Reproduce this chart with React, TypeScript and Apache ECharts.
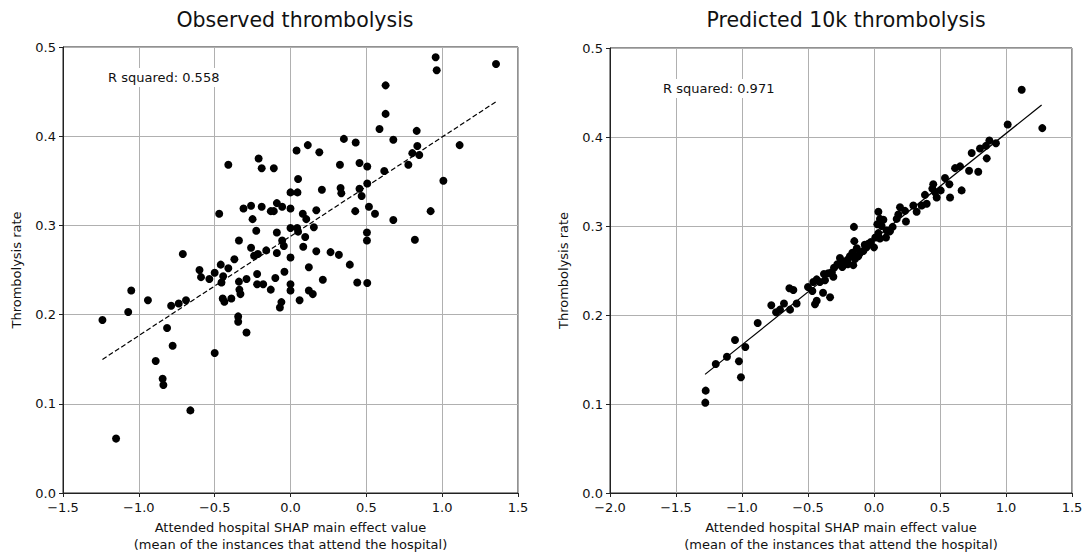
import React, { useEffect, useRef } from "react";
import * as echarts from "echarts";

const observedTitle = "Observed thrombolysis";
const predictedTitle = "Predicted 10k thrombolysis";
const xAxisName = "Attended hospital SHAP main effect value\n(mean of the instances that attend the hospital)";
const yAxisName = "Thrombolysis rate";
const observedR2 = "R squared: 0.558";
const predictedR2 = "R squared: 0.971";

const observedPoints: [number, number][] = [
  [0.04, 0.384], [-0.21, 0.375], [-0.41, 0.368], [-0.19, 0.364], [-0.11, 0.364], [0.05, 0.352],
  [0.0, 0.337], [0.046, 0.337], [-0.47, 0.313], [-0.31, 0.319], [-0.26, 0.322], [-0.19, 0.321],
  [-0.09, 0.325], [-0.055, 0.321], [-0.13, 0.316], [-0.11, 0.316], [0.0, 0.319], [-0.25, 0.307],
  [-0.226, 0.294], [-0.09, 0.292], [0.0, 0.297], [0.05, 0.293], [0.044, 0.297], [-0.34, 0.283],
  [-0.055, 0.283], [-0.044, 0.277], [-0.26, 0.275], [-0.16, 0.272], [-0.215, 0.268], [-0.24, 0.266],
  [-0.09, 0.269], [0.0, 0.264], [-0.37, 0.262], [-0.71, 0.268], [-0.46, 0.256], [-0.41, 0.252],
  [0.957, 0.4885], [0.964, 0.474], [1.355, 0.481], [0.627, 0.457], [0.627, 0.425], [0.587, 0.408],
  [0.832, 0.406], [0.352, 0.397], [0.43, 0.393], [0.678, 0.396], [1.115, 0.39], [0.114, 0.39],
  [0.19, 0.382], [0.836, 0.389], [0.803, 0.381], [0.849, 0.379], [0.777, 0.368], [0.326, 0.368],
  [0.455, 0.37], [0.506, 0.366], [0.618, 0.361], [1.008, 0.35], [0.506, 0.347], [0.33, 0.342],
  [0.335, 0.336], [0.455, 0.341], [0.469, 0.333], [0.207, 0.34], [0.924, 0.316], [0.517, 0.321],
  [0.557, 0.313], [0.427, 0.316], [0.17, 0.317], [0.081, 0.313], [0.104, 0.307], [0.678, 0.306],
  [0.154, 0.298], [0.097, 0.287], [0.504, 0.292], [0.504, 0.283], [0.82, 0.284], [0.084, 0.276],
  [0.17, 0.271], [0.264, 0.27], [0.319, 0.267], [0.121, 0.253], [0.391, 0.256], [-0.6, 0.25],
  [-0.59, 0.242], [-0.535, 0.24], [-0.5, 0.247], [-0.444, 0.243], [-0.455, 0.236], [-0.34, 0.237],
  [-0.29, 0.24], [-0.22, 0.2455], [-0.22, 0.234], [-0.18, 0.234], [-0.1, 0.241], [-0.04, 0.248],
  [-0.13, 0.228], [0.0, 0.234], [0.0, 0.227], [-0.06, 0.214], [-0.07, 0.208], [0.06, 0.216],
  [-0.337, 0.228], [-0.33, 0.223], [-0.447, 0.218], [-0.436, 0.2145], [-0.39, 0.218], [-1.05, 0.227],
  [-0.94, 0.216], [-1.07, 0.203], [-0.787, 0.21], [-0.737, 0.2125], [-0.689, 0.216], [-1.24, 0.194],
  [-0.814, 0.185], [-0.345, 0.198], [-0.345, 0.192], [-0.29, 0.18], [-0.777, 0.165], [-0.5, 0.157],
  [-0.889, 0.148], [-0.843, 0.128], [-0.838, 0.121], [-0.66, 0.0926], [-1.15, 0.061], [0.213, 0.239],
  [0.121, 0.227], [0.147, 0.223], [0.44, 0.236], [0.506, 0.2355],
];

const observedFit: [number, number][] = [[-1.24, 0.1497], [1.355, 0.4386]];

const predictedPoints: [number, number][] = [
  [-1.275, 0.115], [-1.278, 0.1015], [-1.199, 0.145], [-1.114, 0.153], [-1.053, 0.172], [-1.023, 0.148],
  [-1.008, 0.13], [-0.975, 0.164], [-0.881, 0.191], [-0.778, 0.211], [-0.742, 0.203], [-0.712, 0.206],
  [-0.682, 0.213], [-0.636, 0.206], [-0.641, 0.23], [-0.611, 0.228], [-0.586, 0.213], [-0.5, 0.2315],
  [-0.467, 0.227], [-0.447, 0.212], [-0.434, 0.216], [-0.386, 0.225], [-0.333, 0.22], [-0.46, 0.237],
  [-0.434, 0.24], [-0.41, 0.237], [-0.371, 0.239], [-0.379, 0.246], [-0.346, 0.247], [-0.308, 0.243],
  [-0.303, 0.253], [-0.278, 0.257], [-0.258, 0.264], [-0.232, 0.26], [-0.199, 0.257], [-0.182, 0.266],
  [-0.164, 0.27], [-0.144, 0.263], [-0.157, 0.256], [-0.119, 0.266], [-0.106, 0.27], [-0.149, 0.283],
  [-0.152, 0.299], [-0.081, 0.272], [-0.056, 0.276], [-0.043, 0.28], [-0.023, 0.282], [0.0, 0.276],
  [0.033, 0.316], [0.045, 0.308], [0.071, 0.307], [0.025, 0.302], [0.058, 0.3], [0.033, 0.292],
  [0.045, 0.286], [0.091, 0.287], [0.096, 0.295], [0.121, 0.294], [0.141, 0.299], [0.172, 0.308],
  [0.197, 0.321], [0.242, 0.305], [0.184, 0.313], [0.235, 0.317], [0.298, 0.323], [0.323, 0.316],
  [0.361, 0.323], [0.386, 0.335], [0.399, 0.325], [0.449, 0.347], [0.442, 0.342], [0.462, 0.338],
  [0.475, 0.332], [0.505, 0.34], [0.538, 0.354], [0.571, 0.347], [0.664, 0.34], [0.576, 0.332],
  [0.614, 0.365], [0.652, 0.367], [0.72, 0.362], [0.79, 0.361], [0.74, 0.382], [0.854, 0.376],
  [0.803, 0.387], [0.848, 0.39], [0.874, 0.396], [0.924, 0.393], [1.013, 0.414], [1.119, 0.453],
  [1.275, 0.41], [-0.24, 0.254], [-0.13, 0.275], [-0.07, 0.279], [-0.2, 0.262], [-0.32, 0.248],
  [0.01, 0.287],
];

const predictedFit: [number, number][] = [[-1.28, 0.1333], [1.27, 0.436]];

const FONT = "DejaVu Sans";
const fmt = (v: number) => (v < 0 ? "\u2212" : "") + Math.abs(v).toFixed(1);

export default function App() {
  const ref = useRef<HTMLDivElement>(null);
  useEffect(() => {
    if (!ref.current) return;
    const chart = echarts.init(ref.current, undefined, { renderer: "svg" });
    const xAxisBase = {
      type: "value" as const,
      interval: 0.5,
      name: xAxisName,
      nameLocation: "middle" as const,
      nameGap: 26,
      nameTextStyle: { fontFamily: FONT, fontSize: 13, color: "#111", lineHeight: 17 },
      axisLine: { show: true, onZero: false, lineStyle: { color: "#222", width: 1 } },
      axisTick: { show: true, length: 4, lineStyle: { color: "#222" } },
      axisLabel: { fontFamily: FONT, fontSize: 13, color: "#111", margin: 8, formatter: fmt },
      splitLine: { show: true, lineStyle: { color: "#b0b0b0", width: 1 } },
    };
    const yAxisBase = {
      type: "value" as const,
      min: 0,
      max: 0.5,
      interval: 0.1,
      name: yAxisName,
      nameLocation: "middle" as const,
      nameGap: 40,
      nameTextStyle: { fontFamily: FONT, fontSize: 13, color: "#111" },
      axisLine: { show: true, onZero: false, lineStyle: { color: "#222", width: 1 } },
      axisTick: { show: true, length: 4, lineStyle: { color: "#222" } },
      axisLabel: { fontFamily: FONT, fontSize: 13, color: "#111", margin: 7, formatter: fmt },
      splitLine: { show: true, lineStyle: { color: "#b0b0b0", width: 1 } },
    };
    chart.setOption({
      animation: false,
      backgroundColor: "#fff",
      title: [
        { text: observedTitle, left: 290, top: 4, textAlign: "center", textStyle: { fontFamily: FONT, fontSize: 20.5, fontWeight: "normal", color: "#111" } },
        { text: predictedTitle, left: 841, top: 4, textAlign: "center", textStyle: { fontFamily: FONT, fontSize: 20.5, fontWeight: "normal", color: "#111" } },
      ],
      grid: [
        { left: 63, top: 47, width: 455, height: 450, show: true, borderColor: "#222", borderWidth: 1, backgroundColor: "transparent" },
        { left: 610, top: 48, width: 462, height: 451, show: true, borderColor: "#222", borderWidth: 1, backgroundColor: "transparent" },
      ],
      xAxis: [
        { ...xAxisBase, gridIndex: 0, min: -1.5, max: 1.5 },
        { ...xAxisBase, gridIndex: 1, min: -2.0, max: 1.5 },
      ],
      yAxis: [
        { ...yAxisBase, gridIndex: 0 },
        { ...yAxisBase, gridIndex: 1 },
      ],
      series: [
        {
          type: "scatter", xAxisIndex: 0, yAxisIndex: 0, data: observedPoints,
          symbolSize: 8, itemStyle: { color: "#000", opacity: 1 }, z: 3,
        },
        {
          type: "line", xAxisIndex: 0, yAxisIndex: 0, data: observedFit, symbol: "none",
          lineStyle: { color: "#000", width: 1.2, type: [5, 2.5] }, z: 4,
        },
        {
          type: "scatter", xAxisIndex: 1, yAxisIndex: 1, data: predictedPoints,
          symbolSize: 8, itemStyle: { color: "#000", opacity: 1 }, z: 3,
        },
        {
          type: "line", xAxisIndex: 1, yAxisIndex: 1, data: predictedFit, symbol: "none",
          lineStyle: { color: "#000", width: 1.2 }, z: 4,
        },
      ],
      graphic: [
        {
          type: "text", left: 104, top: 68, z: 10,
          style: { text: observedR2, font: `13px '${FONT}'`, fill: "#111", backgroundColor: "#fff", padding: [3, 4] },
        },
        {
          type: "text", left: 659, top: 79, z: 10,
          style: { text: predictedR2, font: `13px '${FONT}'`, fill: "#111", backgroundColor: "#fff", padding: [3, 4] },
        },
      ],
    });
    return () => chart.dispose();
  }, []);
  return <div ref={ref} style={{ position: "fixed", left: 0, top: 0, width: 1087, height: 558 }} />;
}
